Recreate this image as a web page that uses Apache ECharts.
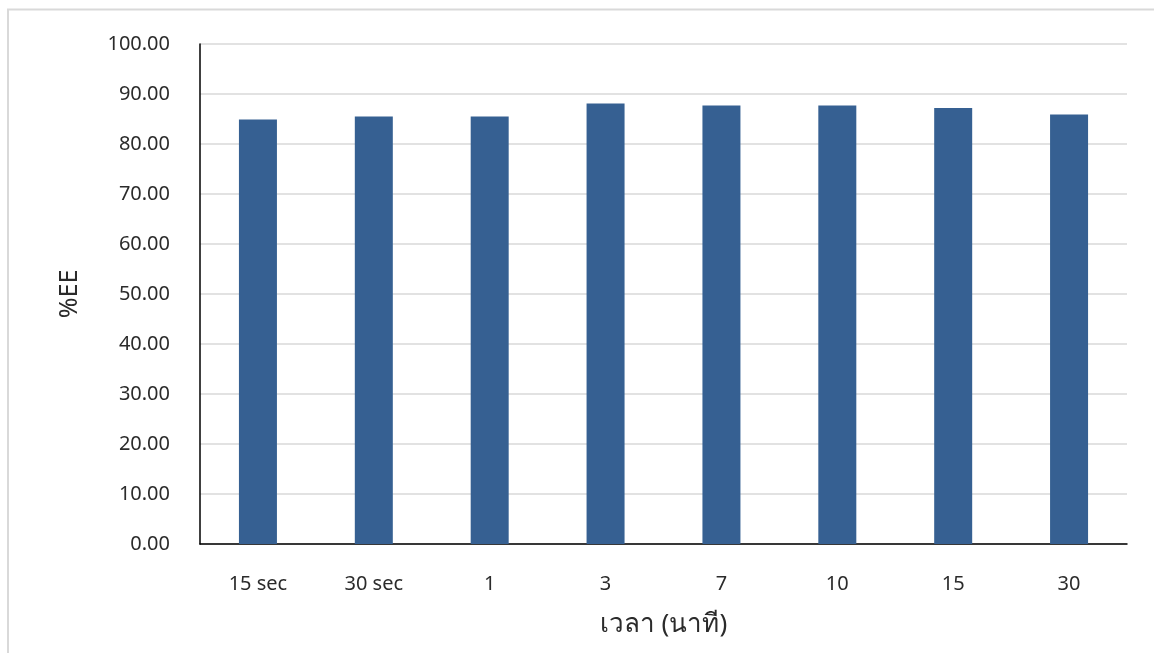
<!DOCTYPE html>
<html>
<head>
<meta charset="utf-8">
<script src="https://cdn.jsdelivr.net/npm/echarts@6/dist/echarts.min.js"></script>
<style>
  html, body { margin: 0; padding: 0; background: #fff; }
  #chart { width: 1154px; height: 653px; }
</style>
</head>
<body>
<div id="chart"></div>
<script>
// Time points and encapsulation efficiency (%EE)
const categories = ['15 sec', '30 sec', '1', '3', '7', '10', '15', '30'];
const eeValues = [84.9, 85.5, 85.5, 88.1, 87.7, 87.7, 87.2, 85.9];
const yTicks = { min: 0, max: 100, interval: 10 };

const FONT = '"Noto Sans", "Open Sans", sans-serif';
const TEXT = '#2b2b2b';

const chart = echarts.init(document.getElementById('chart'), null, { renderer: 'canvas' });
chart.setOption({
  animation: false,
  backgroundColor: '#ffffff',
  graphic: [{
    type: 'rect',
    shape: { x: 8, y: 9.5, width: 1300, height: 800 },
    style: { fill: 'none', stroke: '#d9d9d9', lineWidth: 2 },
    silent: true,
    z: -1
  }],
  grid: { left: 200, right: 27, top: 44, bottom: 109, containLabel: false },
  xAxis: {
    type: 'category',
    data: categories,
    axisLine: { show: true, lineStyle: { color: '#000', width: 1.5 } },
    axisTick: { show: false },
    axisLabel: { color: TEXT, fontFamily: FONT, fontSize: 20, margin: 30 },
    name: 'เวลา (นาที)',
    nameLocation: 'middle',
    nameGap: 68,
    nameTextStyle: { color: TEXT, fontFamily: FONT, fontSize: 26 }
  },
  yAxis: {
    type: 'value',
    min: yTicks.min, max: yTicks.max, interval: yTicks.interval,
    axisLine: { show: true, lineStyle: { color: '#000', width: 1.5 } },
    axisTick: { show: false },
    splitLine: { lineStyle: { color: '#d9d9d9', width: 1.5 } },
    axisLabel: {
      color: TEXT, fontFamily: FONT, fontSize: 20, margin: 30,
      formatter: v => v.toFixed(2)
    },
    name: '%EE',
    nameLocation: 'middle',
    nameGap: 118,
    nameRotate: 90,
    nameTextStyle: { color: TEXT, fontFamily: FONT, fontSize: 25 }
  },
  series: [{
    type: 'bar',
    data: eeValues,
    barWidth: 38,
    itemStyle: { color: '#366092' }
  }]
});
</script>
</body>
</html>
